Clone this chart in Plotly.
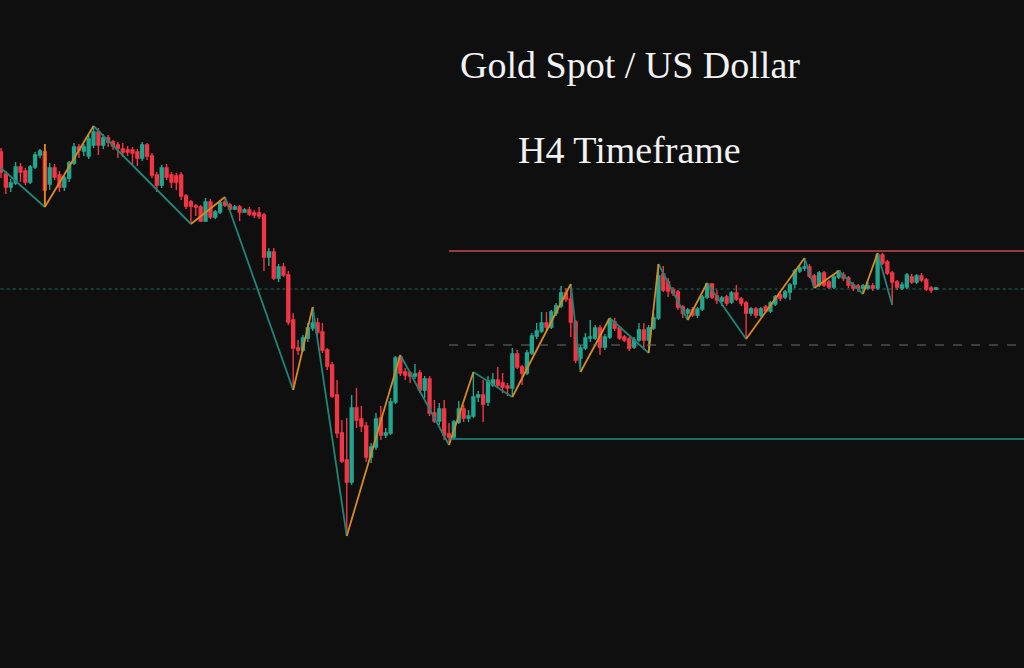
import plotly.graph_objects as go

# ---- candle data (price units) ----
opens = [516, 494, 481, 485, 501, 497, 486, 501, 513, 516,
         484, 500, 493, 481, 490, 505, 521, 517, 512, 523,
         536, 523, 530, 526, 523, 519, 518, 518, 516, 510,
         523, 512, 493, 483, 500, 493, 492, 493, 472, 466,
         462, 461, 447, 466, 451, 456, 466, 463, 459, 461,
         456, 458, 455, 455, 453, 411, 416, 390, 401, 393,
         348, 320, 318, 330, 340, 345, 336, 318, 303, 273,
         235, 208, 186, 260, 249, 242, 211, 221, 250, 233,
         235, 266, 311, 296, 295, 292, 295, 278, 289, 255,
         247, 259, 234, 231, 246, 259, 250, 252, 271, 273,
         266, 283, 288, 285, 282, 280, 314, 301, 295, 315,
         332, 337, 345, 341, 355, 362, 375, 369, 346, 310,
         320, 330, 330, 340, 321, 331, 346, 340, 331, 329,
         321, 328, 338, 328, 340, 350, 394, 386, 378, 376,
         361, 355, 358, 353, 359, 371, 384, 372, 367, 371,
         366, 375, 369, 365, 355, 359, 353, 361, 357, 364,
         373, 371, 376, 384, 397, 400, 401, 392, 383, 395,
         386, 381, 391, 393, 390, 383, 382, 380, 380, 382,
         380, 413, 406, 395, 386, 380, 381, 391, 386, 392,
         388, 380, 379]
highs = [520, 497, 489, 506, 505, 500, 503, 516, 519, 524,
         505, 504, 497, 492, 507, 525, 524, 524, 533, 542,
         540, 534, 533, 528, 526, 525, 522, 521, 519, 526,
         525, 515, 496, 503, 504, 496, 495, 496, 474, 468,
         464, 463, 470, 469, 458, 468, 471, 465, 463, 463,
         460, 461, 458, 461, 455, 420, 420, 404, 405, 397,
         355, 328, 333, 345, 361, 350, 345, 320, 306, 288,
         248, 250, 273, 280, 262, 246, 225, 255, 262, 240,
         270, 312, 313, 300, 297, 304, 298, 292, 292, 268,
         265, 268, 245, 248, 267, 263, 258, 296, 277, 288,
         292, 295, 301, 295, 285, 320, 318, 303, 318, 335,
         345, 356, 356, 358, 365, 382, 380, 384, 348, 323,
         335, 348, 343, 343, 334, 350, 350, 342, 333, 331,
         331, 345, 345, 343, 355, 404, 402, 390, 381, 378,
         363, 360, 361, 361, 373, 385, 385, 378, 372, 373,
         377, 383, 371, 367, 361, 361, 361, 363, 367, 373,
         377, 378, 385, 399, 403, 410, 404, 394, 397, 397,
         388, 393, 397, 396, 392, 386, 384, 384, 386, 385,
         415, 415, 408, 397, 388, 386, 395, 394, 394, 395,
         390, 382, 381]
lows = [490, 474, 476, 483, 486, 483, 484, 499, 510, 461,
        478, 488, 476, 477, 486, 503, 510, 512, 509, 520,
        513, 519, 521, 518, 510, 511, 512, 503, 502, 507,
        508, 490, 476, 480, 488, 480, 478, 468, 459, 444,
        452, 446, 446, 449, 449, 454, 461, 457, 458, 447,
        455, 452, 450, 449, 397, 402, 388, 386, 391, 343,
        278, 313, 316, 326, 337, 333, 315, 298, 270, 230,
        205, 132, 183, 240, 236, 206, 205, 218, 228, 230,
        233, 264, 292, 288, 285, 289, 275, 270, 252, 245,
        243, 228, 223, 229, 244, 246, 246, 250, 266, 246,
        262, 281, 280, 275, 272, 271, 299, 283, 293, 313,
        329, 335, 338, 339, 352, 360, 366, 331, 305, 296,
        318, 326, 328, 313, 318, 329, 337, 328, 326, 317,
        319, 326, 318, 315, 338, 348, 376, 371, 372, 358,
        350, 348, 351, 350, 357, 369, 369, 364, 362, 362,
        364, 367, 362, 329, 352, 350, 351, 355, 355, 362,
        367, 369, 368, 380, 395, 397, 390, 380, 381, 381,
        379, 379, 389, 387, 380, 377, 376, 374, 378, 377,
        378, 403, 393, 363, 378, 378, 379, 384, 384, 386,
        377, 375, 378]
closes = [496, 481, 485, 501, 496, 486, 501, 513, 517, 478,
          500, 491, 481, 490, 505, 521, 518, 521, 529, 536,
          523, 530, 526, 522, 520, 516, 516, 515, 510, 523,
          512, 493, 483, 500, 491, 486, 486, 472, 462, 462,
          461, 447, 466, 451, 456, 465, 463, 459, 461, 456,
          458, 454, 453, 452, 411, 416, 390, 401, 393, 346,
          320, 318, 330, 340, 345, 336, 318, 302, 272, 235,
          207, 186, 260, 248, 242, 211, 221, 249, 233, 235,
          266, 310, 295, 293, 292, 294, 278, 289, 255, 247,
          259, 233, 231, 246, 259, 250, 252, 271, 273, 264,
          287, 288, 283, 281, 280, 314, 301, 295, 315, 332,
          337, 345, 341, 356, 362, 375, 369, 346, 308, 320,
          330, 331, 340, 321, 331, 348, 340, 330, 328, 320,
          328, 338, 328, 340, 350, 392, 378, 377, 375, 361,
          355, 358, 353, 359, 371, 384, 371, 368, 370, 365,
          375, 369, 365, 355, 359, 353, 359, 357, 365, 371,
          370, 376, 383, 397, 400, 401, 392, 383, 395, 383,
          381, 391, 397, 390, 383, 380, 380, 382, 382, 380,
          413, 405, 395, 386, 381, 383, 393, 386, 392, 388,
          379, 378, 380]
bars = list(range(len(opens)))

# ---- zigzag pivots (bar index, price) ----
zz_bars = [0, 9, 19, 39, 46, 60, 64, 71, 82, 92, 97, 105, 117, 119, 125,
           133, 135, 141, 145, 153, 165, 167, 172, 177, 180, 183]
zz_prices = [500, 461, 542, 444, 471, 278, 361, 132, 313, 223, 296, 271, 384,
             296, 350, 315, 404, 348, 385, 329, 410, 380, 397, 374, 415, 363]
zz_extra_bars = [9, 9]
zz_extra_prices = [461, 524]

# ---- horizontal levels ----
resistance_level = 417
support_level = 229
mid_level = 323
pivot_level = 379
levels_start_bar = 92

title_lines = ["Gold Spot / US Dollar", "H4 Timeframe"]

UP = "#22a68f"
DOWN = "#f23645"
ZZ_DOWN = "#1e8577"
ZZ_UP = "#d9891f"

fig = go.Figure()

fig.add_trace(go.Candlestick(
    x=bars, open=opens, high=highs, low=lows, close=closes,
    increasing=dict(line=dict(color=UP, width=1.4), fillcolor=UP),
    decreasing=dict(line=dict(color=DOWN, width=1.4), fillcolor=DOWN),
    whiskerwidth=0, showlegend=False, hoverinfo="skip",
))

# zigzag legs split into up (orange) and down (teal)
dn_x, dn_y, up_x, up_y = [], [], [], []
for k in range(len(zz_bars) - 1):
    a, b = zz_bars[k], zz_bars[k + 1]
    pa, pb = zz_prices[k], zz_prices[k + 1]
    if pb < pa:
        dn_x += [a, b, None]; dn_y += [pa, pb, None]
    else:
        up_x += [a, b, None]; up_y += [pa, pb, None]
up_x += zz_extra_bars + [None]
up_y += zz_extra_prices + [None]

fig.add_trace(go.Scatter(x=dn_x, y=dn_y, mode="lines",
                         line=dict(color=ZZ_DOWN, width=1.8),
                         showlegend=False, hoverinfo="skip"))
fig.add_trace(go.Scatter(x=up_x, y=up_y, mode="lines",
                         line=dict(color=ZZ_UP, width=1.8),
                         showlegend=False, hoverinfo="skip"))

x_end = 215
fig.add_shape(type="line", xref="x", yref="y", x0=-5, x1=x_end,
              y0=pivot_level, y1=pivot_level,
              line=dict(color="#1d6e63", width=1, dash="dot"), layer="below")
fig.add_shape(type="line", xref="x", yref="y", x0=levels_start_bar, x1=x_end,
              y0=resistance_level, y1=resistance_level,
              line=dict(color="#c8474d", width=1.5))
fig.add_shape(type="line", xref="x", yref="y", x0=levels_start_bar, x1=x_end,
              y0=support_level, y1=support_level,
              line=dict(color="#1f8f80", width=1.5))
fig.add_shape(type="line", xref="x", yref="y", x0=levels_start_bar, x1=x_end,
              y0=mid_level, y1=mid_level,
              line=dict(color="#6e6e6e", width=1, dash="dash"))

fig.add_annotation(text=title_lines[0], xref="paper", yref="paper",
                   x=0.615, y=0.902, xanchor="center", yanchor="middle",
                   showarrow=False,
                   font=dict(family="Liberation Serif", size=38, color="#f2f2f2"))
fig.add_annotation(text=title_lines[1], xref="paper", yref="paper",
                   x=0.615, y=0.775, xanchor="center", yanchor="middle",
                   showarrow=False,
                   font=dict(family="Liberation Serif", size=38, color="#f2f2f2"))

fig.update_layout(
    width=1024, height=668,
    margin=dict(l=0, r=0, t=0, b=0),
    paper_bgcolor="#0f0f0f", plot_bgcolor="#0f0f0f",
    boxgap=0.15,
    xaxis=dict(range=[-0.205, 210.06], visible=False,
               rangeslider=dict(visible=False), fixedrange=True),
    yaxis=dict(range=[0, 668], visible=False, fixedrange=True),
    showlegend=False,
)

fig.write_html("out.html", config={"displayModeBar": False},
               post_script="document.body.style.margin='0';document.body.style.background='#0f0f0f';")
